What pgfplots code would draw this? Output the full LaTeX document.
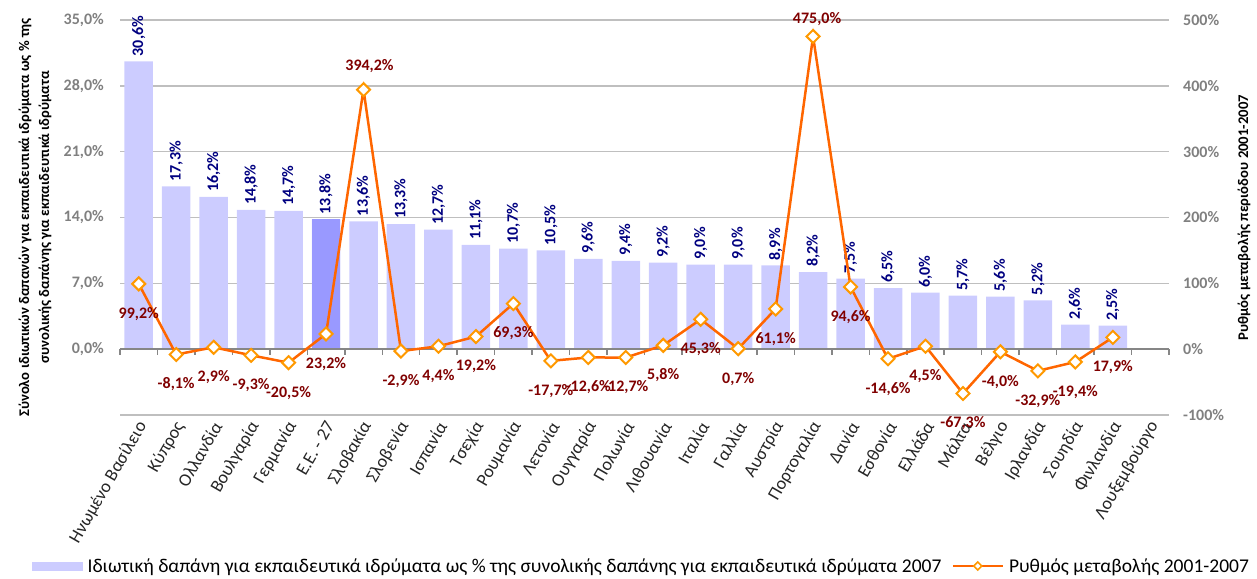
\documentclass[border=0pt]{standalone}
\usepackage{pgfplots}
\pgfplotsset{compat=1.18}
\usepackage{pgfplotstable}
\usepackage{fontspec}
\setmainfont{Carlito}
\usetikzlibrary{calc}
\definecolor{barA}{HTML}{CCCCFF}
\definecolor{barEU}{HTML}{9999FF}
\definecolor{lineC}{HTML}{FF6600}
\definecolor{markC}{HTML}{FF9900}
\definecolor{barLbl}{HTML}{000080}
\definecolor{lineLbl}{HTML}{800000}
\definecolor{tickC}{HTML}{808080}
\definecolor{gridC}{HTML}{BFBFBF}
\definecolor{axisC}{HTML}{868686}

\pgfplotstableread{
x bar
0 30.6
1 17.3
2 16.2
3 14.8
4 14.7
5 13.8
6 13.6
7 13.3
8 12.7
9 11.1
10 10.7
11 10.5
12 9.6
13 9.4
14 9.2
15 9.0
16 9.0
17 8.9
18 8.2
19 7.5
20 6.5
21 6.0
22 5.7
23 5.6
24 5.2
25 2.6
26 2.5
}\bardata

\pgfplotstableread{
x bar
5 13.8
}\eudata

\pgfplotstableread{
x chg dx dy
0 99.2 0 -30
1 -8.1 0 -30
2 2.9 0 -30
3 -9.3 0 -30
4 -20.5 0 -30
5 23.2 0 -30
6 394.2 6 24
7 -2.9 0 -30
8 4.4 0 -30
9 19.2 0 -30
10 69.3 0 -30
11 -17.7 0 -30
12 -12.6 0 -30
13 -12.7 0 -30
14 5.8 0 -30
15 45.3 0 -30
16 0.7 0 -30
17 61.1 0 -30
18 475.0 4 17
19 94.6 0 -30
20 -14.6 0 -30
21 4.5 0 -30
22 -67.3 0 -30
23 -4.0 0 -30
24 -32.9 0 -30
25 -19.4 0 -30
26 17.9 0 -30
}\linedata

\begin{document}
\begin{tikzpicture}
\begin{axis}[name=ax1,
  width=1049pt, height=395pt, scale only axis,
  clip=false,
  xmin=-0.5, xmax=27.5, ymin=-7, ymax=35,
  axis line style={draw=none},
  tick style={draw=none},
  xtick={0,...,27},
  xticklabels={Ηνωμένο Βασίλειο, Κύπρος, Ολλανδία, Βουλγαρία, Γερμανία, Ε.Ε. - 27, Σλοβακία, Σλοβενία, Ισπανία, Τσεχία, Ρουμανία, Λετονία, Ουγγαρία, Πολωνία, Λιθουανία, Ιταλία, Γαλλία, Αυστρία, Πορτογαλία, Δανία, Εσθονία, Ελλάδα, Μάλτα, Βέλγιο, Ιρλανδία, Σουηδία, Φινλανδία, Λουξεμβούργο},
  xticklabel style={xshift=4pt, yshift=-8pt, rotate=60, anchor=east, inner sep=0pt, font=\fontsize{18}{18}\selectfont, text=black!85},
  ytick={0,7,...,35},
  extra y ticks={-7}, extra y tick labels={},
  extra y tick style={grid=major},
  ymajorgrids,
  grid style={gridC, line width=1.5pt},
  /pgf/number format/assume math mode=true,
  yticklabel={\pgfmathprintnumber[fixed,fixed zerofill,precision=1,use comma]{\tick}\%},
  yticklabel style={anchor=east, inner sep=0pt, xshift=-16pt, font=\bfseries\fontsize{16}{16}\selectfont, text=tickC},
  ylabel={Σύνολο ιδιωτικών δαπανών για εκπαιδευτικά ιδρύματα ως \% της\\συνολικής δαπάνης για εκπαιδευτικά ιδρύματα},
  ylabel style={align=center, font=\bfseries\fontsize{14.7}{20}\selectfont, at={(axis description cs:-0.081,0.5)}, anchor=center},
]
\addplot[ybar, bar width=28.5pt, bar shift=0pt, fill=barA, draw=none,
  point meta=rawy,
  nodes near coords={\pgfmathprintnumber[fixed,fixed zerofill,precision=1,use comma]{\pgfplotspointmeta}\%},
  nodes near coords style={rotate=90, anchor=west, inner xsep=5pt, inner ysep=0pt, font=\bfseries\fontsize{16}{16}\selectfont, text=barLbl}]
  table[x=x, y=bar]{\bardata};
\addplot[ybar, bar width=28.5pt, bar shift=0pt, fill=barEU, draw=none, forget plot]
  table[x=x, y=bar]{\eudata};
\draw[axisC, line width=2pt] (axis cs:-0.5,0) -- (axis cs:27.5,0);
\pgfplotsinvokeforeach{-0.5,0.5,...,27.5}{\draw[axisC, line width=1.5pt] (axis cs:#1,0) -- ++(0pt,-6pt);}
\end{axis}

\begin{axis}[
  width=1049pt, height=395pt, scale only axis,
  clip=false,
  xmin=-0.5, xmax=27.5, ymin=-100, ymax=500,
  axis y line*=right,
  axis x line=none,
  axis line style={draw=none},
  tick style={draw=none},
  xtick=\empty,
  ytick={-100,0,...,500},
  /pgf/number format/assume math mode=true,
  yticklabel={\pgfmathprintnumber{\tick}\%},
  yticklabel style={anchor=west, inner sep=0pt, xshift=14pt, font=\bfseries\fontsize{16}{16}\selectfont, text=tickC},
  ylabel={Ρυθμός μεταβολής περιόδου 2001-2007},
  ylabel style={font=\bfseries\fontsize{14.7}{20}\selectfont, at={(axis description cs:1.0715,0.5)}, anchor=center},
  legend columns=2,
  legend style={at={(axis description cs:-0.0839,-0.3823)}, anchor=west, draw=none, fill=none, inner sep=0pt,
    font=\fontsize{19.5}{19.5}\selectfont, nodes={inner sep=0pt},
    /tikz/every odd column/.append style={column sep=5pt},
    /tikz/every even column/.append style={column sep=10pt}},
]
\addlegendimage{legend image code/.code={\fill[barA] (0pt,-4pt) rectangle (50pt,4pt);}}
\addlegendentry{Ιδιωτική δαπάνη για εκπαιδευτικά ιδρύματα ως \% της συνολικής δαπάνης για εκπαιδευτικά ιδρύματα 2007}
\addplot[lineC, line width=2.5pt, mark=square*, mark size=4.6pt,
  mark options={rotate=45, fill=white, draw=markC, line width=2pt},
  point meta=rawy,
  visualization depends on={\thisrow{dx} \as \dx},
  visualization depends on={\thisrow{dy} \as \dy},
  nodes near coords={\pgfmathprintnumber[fixed,fixed zerofill,precision=1,use comma]{\pgfplotspointmeta}\%},
  nodes near coords style={anchor=center, xshift=\dx pt, yshift=\dy pt, inner sep=0pt, font=\bfseries\fontsize{16}{16}\selectfont, text=lineLbl},
  legend image code/.code={\draw[lineC, line width=2.5pt] (0pt,0pt) -- (50pt,0pt); \draw[markC, fill=white, line width=1.5pt] (25pt,-4pt) -- (29pt,0pt) -- (25pt,4pt) -- (21pt,0pt) -- cycle;}]
  table[x=x, y=chg]{\linedata};
\addlegendentry{Ρυθμός μεταβολής 2001-2007}
\end{axis}
\pgfresetboundingbox
\path[use as bounding box] ($(ax1.south west)+(-120pt,-163pt)$) rectangle ($(ax1.north east)+(88pt,20pt)$);
\end{tikzpicture}
\end{document}
